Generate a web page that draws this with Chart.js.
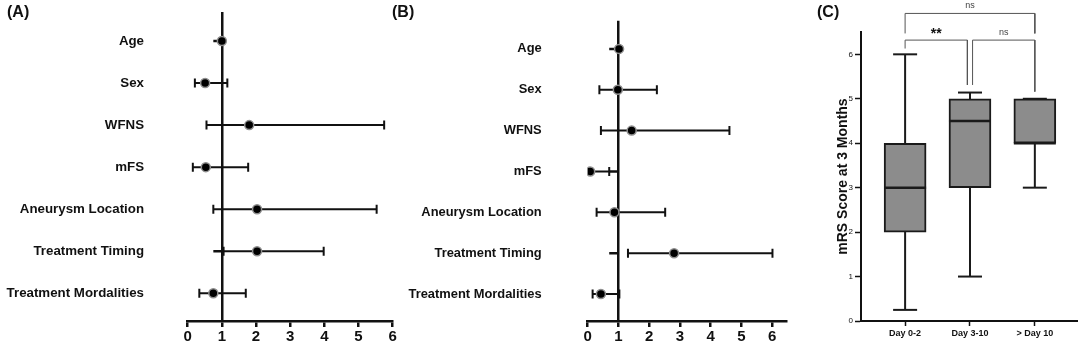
<!DOCTYPE html>
<html>
<head>
<meta charset="utf-8">
<script src="https://cdn.jsdelivr.net/npm/chart.js@4/dist/chart.umd.min.js"></script>
<style>
  body { margin: 0; background: #fff; width: 1080px; height: 344px; overflow: hidden; position: relative; font-family: 'Liberation Sans', Arial, sans-serif; }
  canvas { position: absolute; top: 0; }
  .tag { position: absolute; top: 4px; font-weight: bold; font-size: 16px; line-height: 16px; color: #111; }
</style>
</head>
<body>
<canvas id="chartA" width="400" height="344" style="left:0"></canvas>
<canvas id="chartB" width="400" height="344" style="left:400px"></canvas>
<canvas id="chartC" width="280" height="344" style="left:800px"></canvas>
<div class="tag" style="left:7px">(A)</div>
<div class="tag" style="left:392px">(B)</div>
<div class="tag" style="left:817px">(C)</div>
<script>
// forest plots (A) and (B)
const rowLabels = ['Age', 'Sex', 'WFNS', 'mFS', 'Aneurysm Location', 'Treatment Timing', 'Treatment Mordalities'];
const xTicks = [0, 1, 2, 3, 4, 5, 6];

const estA  = [1.00, 0.51, 1.80, 0.53, 2.03, 2.03, 0.75];
const lowA  = [0.97, 0.21, 0.55, 0.15, 0.75, 1.05, 0.34];
const highA = [1.03, 1.16, 5.75, 1.77, 5.53, 3.98, 1.70];
const stubA = [0.75, null, null, null, null, 0.75, null];

const estB  = [1.02, 0.98, 1.43, 0.08, 0.87, 2.81, 0.43];
const lowB  = [0.98, 0.38, 0.43, 0.02, 0.29, 1.31, 0.16];
const highB = [1.05, 2.25, 4.61, 0.70, 2.52, 6.01, 1.03];
const stubB = [0.70, null, null, 0.70, null, 0.70, null];

// box plot (C)
const groups = ['Day 0-2', 'Day 3-10', '> Day 10'];
const boxMin = [0.25, 1, 3];
const boxQ1  = [2, 3, 4];
const boxMed = [3, 4.5, 4];
const boxQ3  = [4, 5, 5];
const boxMax = [6, 5.14, 5];
const yTicksC = [0, 1, 2, 3, 4, 5, 6];

const bracketFrom  = [0, 0, 1.04];
const bracketTo    = [2, 0.96, 2];
const bracketTop   = [6.92, 6.32, 6.32];
const bracketFootL = [6.47, 6.13, 5.31];
const bracketFootR = [6.47, 5.31, 5.16];
const bracketText  = ['ns', '**', 'ns'];

const FONT = "'Liberation Sans', Arial, sans-serif";
const INK = '#111';

function forestChart(id, est, low, high, stub, opts) {
  const datasets = [];
  rowLabels.forEach((_, i) => {
    if (stub[i] !== null) {
      datasets.push({
        type: 'line', data: [{x: stub[i], y: i}, {x: 1, y: i}],
        borderColor: INK, borderWidth: 2.5, pointRadius: 0, order: 3
      });
    }
    datasets.push({
      type: 'line', data: [{x: low[i], y: i}, {x: high[i], y: i}],
      borderColor: INK, borderWidth: 2, pointStyle: 'line', pointRotation: 90,
      pointRadius: 4.5, pointBorderColor: INK, pointBorderWidth: 2, order: 2
    });
  });
  datasets.push({
    type: 'line', showLine: false, data: est.map((v, i) => ({x: v, y: i})),
    pointRadius: 4.5, pointBackgroundColor: '#000', pointBorderColor: '#8f8f8f',
    pointBorderWidth: 1.5, order: 1
  });

  new Chart(document.getElementById(id), {
    type: 'scatter',
    data: {datasets},
    options: {
      responsive: false, animation: false, devicePixelRatio: 1,
      layout: {autoPadding: false, padding: {left: 0, right: opts.rightPad, top: opts.top, bottom: 0}},
      plugins: {legend: {display: false}, tooltip: {enabled: false}},
      scales: {
        x: {
          type: 'linear', min: 0, max: opts.xMax,
          afterBuildTicks: s => { s.ticks = xTicks.map(v => ({value: v})); },
          afterFit: s => { s.height = 23; },
          ticks: {font: {family: FONT, size: 15, weight: 'bold'}, color: INK, padding: 1, maxRotation: 0, autoSkip: false},
          grid: {
            color: c => (c.tick && c.tick.value === 1 ? INK : 'rgba(0,0,0,0)'),
            lineWidth: 2.5, tickColor: INK, tickWidth: 2.5, tickLength: 6
          },
          border: {color: INK, width: 2.5}
        },
        y: {
          type: 'linear', reverse: true, min: -0.69, max: 6.66,
          afterBuildTicks: s => { s.ticks = rowLabels.map((_, i) => ({value: i})); },
          afterFit: s => { s.width = 187.7; s.paddingTop = 0; s.paddingBottom = 0; },
          ticks: {callback: v => rowLabels[v], font: {family: FONT, size: opts.labelSize, weight: 'bold'}, color: INK, padding: opts.labelPad, autoSkip: false},
          grid: {display: false, drawTicks: false},
          border: {display: false}
        }
      }
    }
  });
}

forestChart('chartA', estA, lowA, highA, stubA, {xMax: 6, rightPad: 7.3, top: 12, labelPad: 43.7, labelSize: 13.3});
forestChart('chartB', estB, lowB, highB, stubB, {xMax: 6.45, rightPad: 14, top: 20.7, labelPad: 46, labelSize: 12.9});

// box plot
const boxDatasets = [];
groups.forEach((_, i) => {
  boxDatasets.push({
    type: 'line', data: [{x: i, y: boxMin[i]}, {x: i, y: boxMax[i]}],
    borderColor: '#1a1a1a', borderWidth: 2, pointStyle: 'line', pointRadius: 12,
    pointBorderColor: '#1a1a1a', pointBorderWidth: 2, order: 3
  });
});
boxDatasets.push({
  type: 'bar', data: groups.map((_, i) => ({x: i, y: [boxQ1[i], boxQ3[i]]})),
  barThickness: 42, backgroundColor: '#8c8c8c', borderColor: '#1a1a1a',
  borderWidth: 2, borderSkipped: false, order: 2
});
boxDatasets.push({
  type: 'line', showLine: false, data: groups.map((_, i) => ({x: i, y: boxMed[i]})),
  pointStyle: 'line', pointRadius: 21, pointBorderColor: '#1a1a1a', pointBorderWidth: 2.5, order: 1
});
bracketText.forEach((_, i) => {
  boxDatasets.push({
    type: 'line', clip: false,
    data: [{x: bracketFrom[i], y: bracketFootL[i]}, {x: bracketFrom[i], y: bracketTop[i]},
           {x: bracketTo[i], y: bracketTop[i]}, {x: bracketTo[i], y: bracketFootR[i]}],
    borderColor: '#555', borderWidth: 1, pointRadius: 0, order: 4
  });
});

const bracketLabels = {
  id: 'bracketLabels',
  afterDatasetsDraw(chart) {
    const {ctx, scales: {x, y}} = chart;
    ctx.save();
    ctx.textAlign = 'center';
    ctx.textBaseline = 'middle';
    bracketText.forEach((t, i) => {
      const px = x.getPixelForValue((bracketFrom[i] + bracketTo[i]) / 2);
      const py = y.getPixelForValue(bracketTop[i]) - 8;
      if (t === 'ns') {
        ctx.font = '9px ' + FONT;
        ctx.fillStyle = '#444';
      } else {
        ctx.font = 'bold 14px ' + FONT;
        ctx.fillStyle = INK;
      }
      ctx.fillText(t, px, t === 'ns' ? py : py + 2);
    });
    ctx.restore();
  }
};

new Chart(document.getElementById('chartC'), {
  type: 'scatter',
  data: {datasets: boxDatasets},
  plugins: [bracketLabels],
  options: {
    responsive: false, animation: false, devicePixelRatio: 1,
    layout: {autoPadding: false, padding: {left: 0, right: 3, top: 32.1, bottom: 0}},
    plugins: {legend: {display: false}, tooltip: {enabled: false}},
    scales: {
      x: {
        type: 'linear', min: -0.68, max: 2.65, offset: false,
        afterBuildTicks: s => { s.ticks = groups.map((_, i) => ({value: i})); },
        afterFit: s => { s.height = 23; s.paddingLeft = 0; s.paddingRight = 0; },
        ticks: {callback: v => groups[v], font: {family: FONT, size: 9, weight: 'bold'}, color: INK, padding: 2, maxRotation: 0, autoSkip: false},
        grid: {offset: false, drawOnChartArea: false, tickLength: 5, tickColor: INK, tickWidth: 1.5},
        border: {color: INK, width: 2}
      },
      y: {
        type: 'linear', min: 0, max: 6.5,
        afterBuildTicks: s => { s.ticks = yTicksC.map(v => ({value: v})); },
        afterFit: s => { s.width = 61; },
        ticks: {font: {family: FONT, size: 8}, color: INK, padding: 2},
        grid: {drawOnChartArea: false, tickLength: 6, tickColor: INK, tickWidth: 1.5},
        border: {color: INK, width: 2},
        title: {display: true, text: 'mRS Score at 3 Months', font: {family: FONT, size: 14, weight: 'bold'}, color: INK, padding: {top: 34.6, bottom: 0}}
      }
    }
  }
});
</script>
</body>
</html>
